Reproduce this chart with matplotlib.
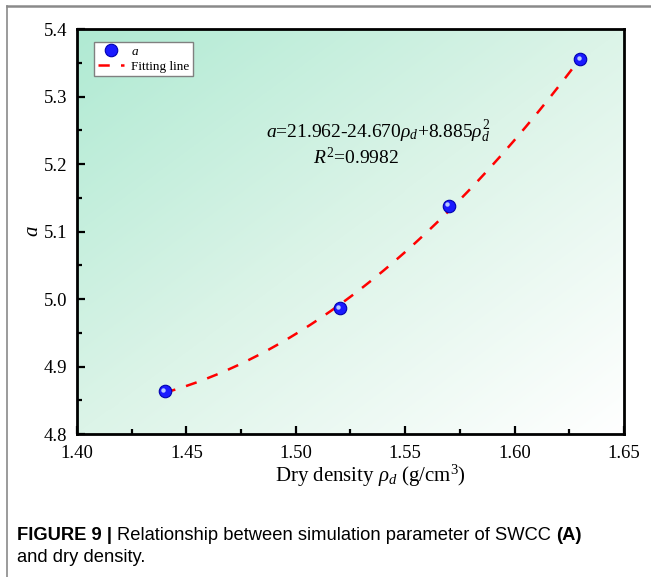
import numpy as np
import matplotlib
matplotlib.use("Agg")
import matplotlib.pyplot as plt
from matplotlib.lines import Line2D
from matplotlib.colors import LinearSegmentedColormap
import matplotlib.transforms as mtransforms
from matplotlib.ticker import MultipleLocator

# measured parameter a versus dry density
dry_density = [1.44, 1.52, 1.57, 1.63]
a_values = [4.863, 4.986, 5.138, 5.355]

# quadratic fit coefficients: a = c0 + c1*rho + c2*rho^2
fit_coef = [21.962, -24.670, 8.885]
fit_range = [1.44, 1.63]

x_ticks = [1.40, 1.45, 1.50, 1.55, 1.60, 1.65]
y_ticks = [4.8, 4.9, 5.0, 5.1, 5.2, 5.3, 5.4]

plt.rcParams["font.family"] = ["Liberation Serif", "DejaVu Serif"]
plt.rcParams["mathtext.fontset"] = "custom"
plt.rcParams["mathtext.rm"] = "Liberation Serif"
plt.rcParams["mathtext.it"] = "Liberation Serif:italic"

fig = plt.figure(figsize=(6.51, 5.77), dpi=100)
ax = fig.add_axes([0.1183, 0.2478, 0.8402, 0.7019])

# diagonal background gradient
cmap = LinearSegmentedColormap.from_list("bg", ["#b0ead3", "#dcf4e8", "#ffffff"])
gx, gy = np.meshgrid(np.linspace(0, 1, 300), np.linspace(1, 0, 300))
grad = (gx + (1 - gy)) / 2.0
ax.imshow(grad, cmap=cmap, extent=[0, 1, 0, 1], transform=ax.transAxes,
          aspect="auto", zorder=0, interpolation="bilinear")

# fitted curve
xf = np.linspace(fit_range[0], fit_range[1], 200)
yf = fit_coef[0] + fit_coef[1] * xf + fit_coef[2] * xf ** 2
ax.plot(xf, yf, color="#ff0000", lw=1.8, ls=(0, (4.5, 4.5)), zorder=3,
        label="Fitting line")

# data points drawn as shaded spheres
ax.plot(dry_density, a_values, ls="none", marker="o", ms=9,
        mfc="#1a1aff", mec="#0000b0", mew=0.8, zorder=4)
hl = mtransforms.offset_copy(ax.transData, fig=fig, x=-1.2, y=1.2, units="points")
ax.plot(dry_density, a_values, ls="none", marker="o", ms=3.2,
        mfc="#b8c8ff", mec="none", zorder=5, transform=hl)

ax.set_xlim(1.40, 1.65)
ax.set_ylim(4.8, 5.4)
ax.set_xticks(x_ticks)
ax.set_yticks(y_ticks)
ax.set_xticklabels([f"{v:.2f}" for v in x_ticks])
ax.set_yticklabels([f"{v:.1f}" for v in y_ticks])
ax.xaxis.set_minor_locator(MultipleLocator(0.025))
ax.yaxis.set_minor_locator(MultipleLocator(0.05))
ax.tick_params(which="both", direction="in", top=False, right=False,
               width=1.6, labelsize=13.5)
ax.tick_params(which="major", length=6)
ax.tick_params(axis="x", which="major", pad=8)
ax.tick_params(axis="y", which="major", pad=7)
ax.tick_params(which="minor", length=3.5)
for s in ax.spines.values():
    s.set_linewidth(2.0)
    s.set_zorder(6)

ax.set_xlabel(r"Dry density $\rho_d$ (g/cm$^3$)", fontsize=15)
ax.xaxis.set_label_coords(0.536, -0.07)
ax.set_ylabel(r"$a$", fontsize=15)
ax.yaxis.set_label_coords(-0.062, 0.5)

ax.text(0.551, 0.746, r"$a$=21.962-24.670$\rho_d$+8.885$\rho_d^2$",
        transform=ax.transAxes, fontsize=14, ha="center", va="center")
ax.text(0.431, 0.684, r"$R^2$=0.9982", transform=ax.transAxes,
        fontsize=14, ha="left", va="center")

# legend
h_pt = (Line2D([], [], ls="none", marker="o", ms=9, mfc="#1a1aff",
               mec="#0000b0", mew=0.8))
h_ln = Line2D([], [], color="#ff0000", lw=1.8, ls=(0, (4.5, 4.5)))
leg = ax.legend([h_pt, h_ln], [r"$a$", "Fitting line"], loc="upper left",
                bbox_to_anchor=(0.031, 0.968), fontsize=9.5, frameon=True,
                fancybox=False, edgecolor="#808080", framealpha=1.0,
                handlelength=2.0, handletextpad=0.5, borderpad=0.28,
                labelspacing=0.18, borderaxespad=0)
leg.get_frame().set_linewidth(1.0)
leg.set_zorder(7)

# page frame lines
fig.add_artist(Line2D([7 / 651, 7 / 651], [0, 1 - 6 / 577], color="#8a8a8a",
                      lw=1.2, transform=fig.transFigure))
fig.add_artist(Line2D([7 / 651, 1], [1 - 6 / 577, 1 - 6 / 577], color="#8a8a8a",
                      lw=1.8, transform=fig.transFigure))

# caption
cap_font = ["Liberation Sans", "DejaVu Sans"]
cap_size = 13.2
t1 = fig.text(17 / 651, 1 - 535 / 577, "FIGURE 9 | ", fontsize=cap_size,
              fontweight="bold", family=cap_font, va="center", ha="left")
fig.canvas.draw()
bb = t1.get_window_extent()
t2 = fig.text(bb.x1 / fig.bbox.width, 1 - 535 / 577,
              "Relationship between simulation parameter of SWCC ",
              fontsize=cap_size, family=cap_font, va="center", ha="left")
fig.canvas.draw()
bb2 = t2.get_window_extent()
fig.text(bb2.x1 / fig.bbox.width, 1 - 535 / 577, "(A)", fontsize=cap_size,
         fontweight="bold", family=cap_font, va="center", ha="left")
fig.text(17 / 651, 1 - 557 / 577, "and dry density.", fontsize=cap_size,
         family=cap_font, va="center", ha="left")

fig.savefig("out.png", dpi=100)
